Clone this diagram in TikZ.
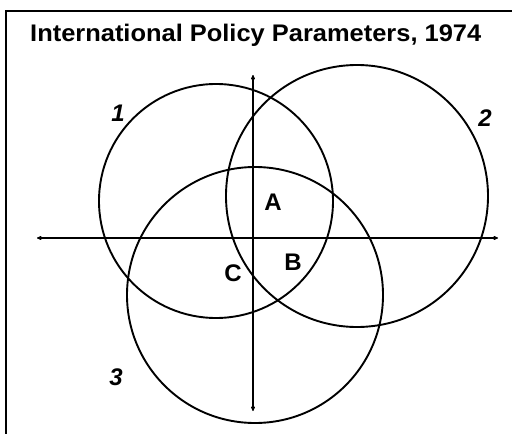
\documentclass[tikz,border=0pt]{standalone}
\usepackage{fontspec}
\setmainfont{Liberation Sans}
\usetikzlibrary{arrows.meta, math}

\begin{document}
\begin{tikzpicture}[x=1pt, y=-1pt]
\tikzmath{
\ra=117;
\rb=131;
\rc=128;
}
 \useasboundingbox (0,0) rectangle (512,434);

 \coordinate (C1) at (216,201);
 \coordinate (C2) at (357,196);
 \coordinate (C3) at (255,295);

 % frame
 \draw[line width=2.6pt] (6,434) -- (6,11) -- (512,11);

 \node[font=\fontsize{24}{26}\selectfont\bfseries, anchor=base west, inner sep=0pt] (title) at (30,41) {\scalebox{1.06}[1]{International Policy Parameters, 1974}};

 % axes
 \coordinate (xl) at (37,238);
 \coordinate (xr) at (498,238);
 \coordinate (yt) at (253,75);
 \coordinate (yb) at (253,411);
 \draw[{Latex[round,length=6pt,width=5pt]}-{Latex[round,length=6pt,width=5pt]}, line width=2.6pt] (xl) -- (xr);
 \draw[{Latex[round,length=6pt,width=5pt]}-{Latex[round,length=6pt,width=5pt]}, line width=2.6pt] (yt) -- (yb);

 \draw[line width=1.9pt] (C1) circle (\ra);
 \draw[line width=1.9pt] (C2) circle (\rb);
 \draw[line width=1.9pt] (C3) circle (\rc);

 \node[font=\fontsize{24}{26}\selectfont\bfseries\itshape] (n1) at (118,113) {1};
 \node[font=\fontsize{24}{26}\selectfont\bfseries\itshape] (n2) at (485,118) {2};
 \node[font=\fontsize{24}{26}\selectfont\bfseries\itshape] (n3) at (116,377) {3};

 \node[font=\fontsize{24}{26}\selectfont\bfseries] (A) at (273,202) {A};
 \node[font=\fontsize{24}{26}\selectfont\bfseries] (B) at (293,262) {B};
 \node[font=\fontsize{24}{26}\selectfont\bfseries] (C) at (233,273) {C};
\end{tikzpicture}
\end{document}
